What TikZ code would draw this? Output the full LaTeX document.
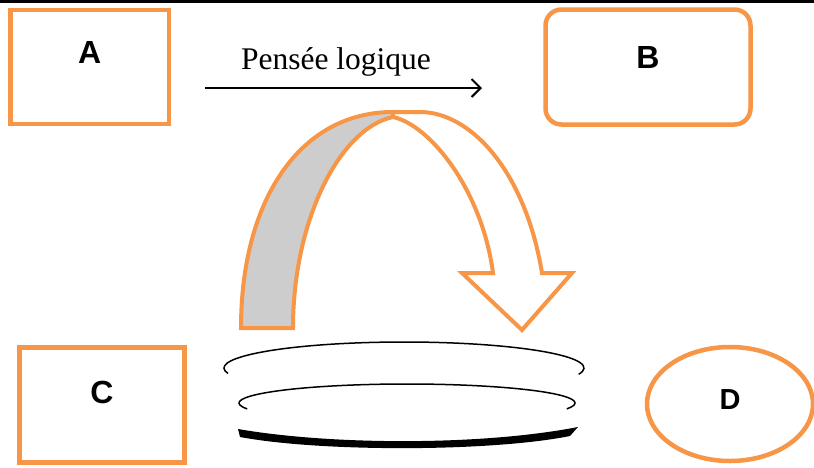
\documentclass[tikz,border=0pt]{standalone}
\usepackage{fontspec}
\setmainfont{Liberation Serif}
\newfontfamily\letterfont{Liberation Sans}
\usetikzlibrary{shapes.geometric, arrows.meta, positioning}
\definecolor{accentorange}{RGB}{247,150,70}
\definecolor{ribbongray}{RGB}{205,205,205}
\tikzstyle{letterbox} = [rectangle, draw=accentorange, line width=4.5pt, fill=white, inner sep=0pt, font=\letterfont\bfseries\fontsize{32}{36}\selectfont, text height=23pt]
\tikzstyle{roundbox} = [letterbox, rounded corners=16pt]
\tikzstyle{letteroval} = [ellipse, draw=accentorange, line width=4.5pt, fill=white, inner sep=0pt, font=\letterfont\bfseries\fontsize{29}{32}\selectfont, text height=21pt]
\tikzstyle{thought} = [line width=2pt, black, -{Straight Barb[length=9pt, width=18pt]}]
\tikzstyle{ribbon} = [draw=accentorange, line width=4pt, line join=miter]
\tikzstyle{discline} = [line width=1.5pt, black]

\begin{document}
\begin{tikzpicture}[x=1pt, y=-1pt]

    \useasboundingbox (0,0) rectangle (814,467);

    % page rule at the top
    \fill [black] (0,0) rectangle (814,2.5);

    \node (boxa) [letterbox, minimum width=158.5pt, minimum height=114pt, text depth=30pt] at (89.75,67) {A};
    \node (boxb) [roundbox, minimum width=205pt, minimum height=115pt, text depth=20pt] at (648,67) {B};
    \node (boxc) [letterbox, minimum width=165pt, minimum height=115pt, text depth=26pt] at (102,405) {C};
    \node (ovald) [letteroval, minimum width=166pt, minimum height=114pt, text depth=10pt] at (730,404) {D};

    \coordinate (thoughtstart) at (205,88);
    \coordinate (thoughtend) at (482,88);
    \draw [thought] (thoughtstart) -- (thoughtend);
    \node (thoughtlabel) [anchor=base, font=\fontsize{31.5}{36}\selectfont] at (336,69) {Pensée logique};

    % curved ribbon arrow, back side then front side
    \filldraw [ribbon, fill=ribbongray] (241,328) .. controls (241,200) and (300,112) .. (393,112)
        -- (393,117) .. controls (340,128) and (293,220) .. (293,328) -- cycle;
    \filldraw [ribbon, fill=white] (393,112) -- (420,112) .. controls (470,112) and (525,170) .. (542,273)
        -- (572,273) -- (522,330) -- (462,273) -- (493,273)
        .. controls (482,190) and (430,125) .. (393,117) -- cycle;

    % stacked discs
    \draw [discline] (404,368) ++(168:180 and 26) arc [start angle=168, end angle=374, x radius=180, y radius=26];
    \draw [discline] (407,403) ++(162:168 and 19) arc [start angle=162, end angle=378, x radius=168, y radius=19];
    \fill [black] (238,429) .. controls (330,445) and (480,446) .. (578,427) -- (570,436)
        .. controls (490,452) and (320,452) .. (240,437) -- cycle;

\end{tikzpicture}
\end{document}
